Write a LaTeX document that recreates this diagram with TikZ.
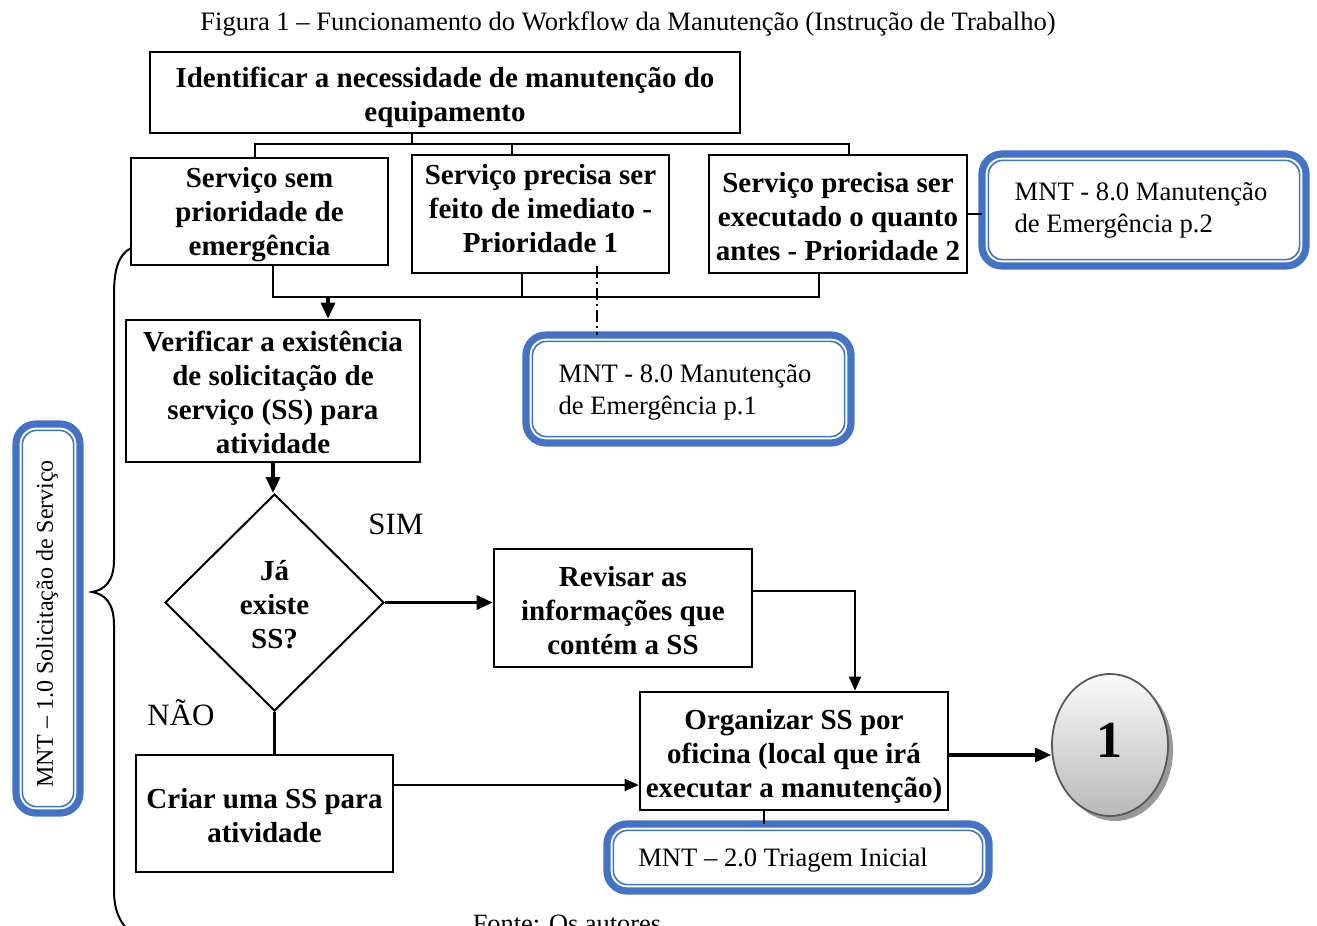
\documentclass[tikz,border=0pt]{standalone}
\usepackage{fontspec}
\setmainfont{Liberation Serif}
\usetikzlibrary{arrows.meta,shapes.geometric,shadows}
\definecolor{mntblue}{HTML}{4472C4}

\begin{document}
\begin{tikzpicture}[x=0.5pt,y=-0.5pt,
  stepbox/.style={draw, line width=1.3pt, inner sep=0pt},
  steptext/.style={align=center, inner sep=0pt, font=\bfseries\fontsize{14.5}{17}\selectfont},
  mnt/.style={draw=mntblue, fill=white, line width=3.6pt, rounded corners=10pt,
    outer sep=0pt, inner sep=0pt},
  mnttext/.style={align=left, inner sep=0pt, font=\fontsize{13.3}{16}\selectfont},
  mntinner/.style={draw=mntblue, line width=0.8pt, rounded corners=7pt},
  tree/.style={line width=0.9pt},
  link/.style={line width=1pt, -{Triangle[length=7pt,width=6pt]}},
  boldlink/.style={line width=1.6pt, -{Triangle[length=8pt,width=7pt]}},
  answer/.style={font=\fontsize{15.5}{18}\selectfont},
]
\useasboundingbox (0,0) rectangle (1317,926);

% caption
\node[font=\fontsize{13.3}{16}\selectfont] (title) at (628,24)
  {Figura 1 – Funcionamento do Workflow da Manutenção (Instrução de Trabalho)};

% process steps: frames
\node[stepbox, minimum width=295pt, minimum height=40.5pt] (A) at (445,92.5) {};
\node[stepbox, minimum width=128.5pt, minimum height=53.5pt] (B1) at (259.5,211.5) {};
\node[stepbox, minimum width=128.5pt, minimum height=59pt] (B2) at (540.5,214) {};
\node[stepbox, minimum width=129pt, minimum height=59pt] (B3) at (838,214) {};
\node[stepbox, minimum width=147pt, minimum height=71pt] (C) at (273,391) {};
\node[diamond, draw, line width=1pt, minimum width=109.5pt, minimum height=108.5pt,
  inner sep=0pt] (D) at (274.5,602.5) {};
\node[stepbox, minimum width=129pt, minimum height=59pt] (R) at (623,608) {};
\node[stepbox, minimum width=154pt, minimum height=59pt] (O) at (794,751) {};
\node[stepbox, minimum width=128.5pt, minimum height=58.5pt] (E) at (264.5,813.5) {};

% process steps: texts
\node[steptext] (At) at (445,97) {Identificar a necessidade de manutenção do\\equipamento};
\node[steptext] (B1t) at (259.5,215) {Serviço sem\\prioridade de\\emergência};
\node[steptext] (B2t) at (540.5,209) {Serviço precisa ser\\feito de imediato -\\Prioridade 1};
\node[steptext] (B3t) at (838,216.5) {Serviço precisa ser\\executado o quanto\\antes - Prioridade 2};
\node[steptext] (Ct) at (273,392.5) {Verificar a existência\\de solicitação de\\serviço (SS) para\\atividade};
\node[steptext] (Dt) at (274.5,605) {Já\\existe\\SS?};
\node[steptext] (Rt) at (623,610.5) {Revisar as\\informações que\\contém a SS};
\node[steptext] (Ot) at (794,757) {Organizar SS por\\oficina (local que irá\\executar a manutenção)};
\node[steptext] (Et) at (264.5,815.5) {Criar uma SS para\\atividade};

% off-page connector
\node[ellipse, draw=gray!70!black, line width=0.9pt, top color=gray!4, bottom color=gray!55,
  minimum width=58pt, minimum height=71pt, inner sep=0pt,
  drop shadow={shadow xshift=2.5pt, shadow yshift=-2.5pt, fill=gray!80, opacity=1}]
  (circ) at (1110,745) {};
\node[font=\bfseries\fontsize{26}{30}\selectfont] (circt) at (1109,740) {1};

% references to other procedures
\node[mnt, minimum width=162.5pt, minimum height=54pt] (M1) at (688.5,389) {};
\node[mnt, minimum width=162pt, minimum height=56pt] (M2) at (1144,210) {};
\node[mnt, minimum width=191pt, minimum height=33.5pt] (T) at (798,857.5) {};
\node[mnt, minimum width=32pt, minimum height=194.5pt] (S1) at (48,618.5) {};
\foreach \n in {M1,M2,T,S1}
  \draw[mntinner] ([shift={(3.2pt,-3.2pt)}]\n.north west) rectangle ([shift={(-3.2pt,3.2pt)}]\n.south east);
\node[mnttext] (M1t) at (685,392.5) {MNT - 8.0 Manutenção\\de Emergência p.1};
\node[mnttext] (M2t) at (1141,210) {MNT - 8.0 Manutenção\\de Emergência p.2};
\node[mnttext] (Tt) at (783,860) {MNT – 2.0 Triagem Inicial};
\node[rotate=90, font=\fontsize{12}{14}\selectfont] (S1t) at (47,624)
  {MNT – 1.0 Solicitação de Serviço};

% answer labels
\node[answer] (sim) at (396,524) {SIM};
\node[answer] (nao) at (181,713) {NÃO};

% branching from the first step
\coordinate (top) at (0,144);
\coordinate (bus) at (0,297);
\coordinate (a1) at ([xshift=-16.5pt]A.south);
\coordinate (t1) at ([xshift=-2.25pt]B1.north);
\coordinate (t2) at ([xshift=-14.25pt]B2.north);
\coordinate (t3) at ([xshift=5.5pt]B3.north);
\draw[tree] (a1) -- (a1 |- top);
\draw[tree] (t1) -- (t1 |- top) -- (t3 |- top) -- (t3);
\draw[tree] (t2) -- (t2 |- top);

% merging into the verification step
\coordinate (b1d) at ([xshift=6.75pt]B1.south);
\coordinate (b2d) at ([xshift=-9.25pt]B2.south);
\coordinate (b3d) at ([xshift=-9.5pt]B3.south);
\coordinate (cin) at ([xshift=27.5pt]C.north);
\draw[tree] (b1d) -- (b1d |- bus) -- (b3d |- bus) -- (b3d);
\draw[tree] (b2d) -- (b2d |- bus);
\draw[boldlink] (cin |- bus) -- (cin);

% links to the reference boxes
\coordinate (p1) at ([xshift=28.25pt,yshift=4pt]B2.south);
\draw[line width=0.6pt, dash pattern=on 6pt off 2pt on 1pt off 2pt] (p1) -- (p1 |- M1.north);
\draw[tree] (B3.east) -- (M2.west |- B3.east);
\coordinate (o1) at ([xshift=-15pt]O.south);
\draw[tree] (o1) -- (o1 |- T.north);

% main flow
\draw[boldlink] (C.south) -- (C.south |- D.north);
\draw[boldlink] (D.east) -- (D.east -| R.west);
\draw[line width=1.6pt] (D.south) -- (D.south |- E.north);
\coordinate (r1) at ([yshift=8.5pt]R.east);
\coordinate (o2) at ([xshift=30.5pt]O.north);
\draw[link] (r1) -| (o2);
\coordinate (e1) at ([yshift=14.25pt]E.east);
\draw[link] (e1) -- (e1 -| O.west);
\draw[boldlink] ([yshift=-2pt]O.east) -- ([yshift=-5pt]circ.west);

% brace grouping the request steps
\draw[line width=1pt] (131,248) .. controls (118,255) and (114,270) .. (114,295)
  -- (114,560) .. controls (114,582) and (104,590) .. (92,592)
  .. controls (104,594) and (114,602) .. (114,625)
  -- (114,890) .. controls (114,912) and (120,922) .. (132,935);

% source line
\node[font=\fontsize{13.2}{16}\selectfont, anchor=base] (src) at (567,932) {Fonte: Os autores};
\end{tikzpicture}
\end{document}
